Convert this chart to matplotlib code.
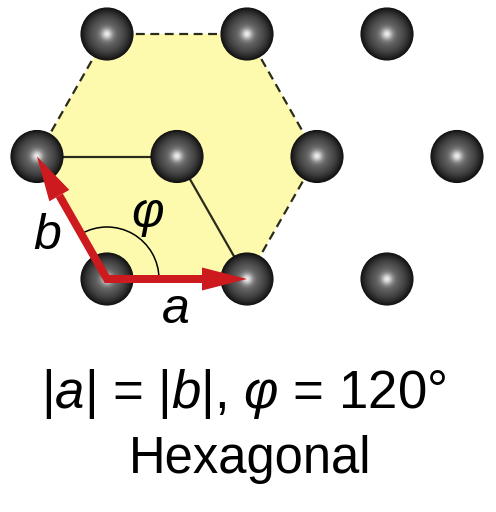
import numpy as np
import matplotlib
matplotlib.use("Agg")
from matplotlib import pyplot as plt
from matplotlib.patches import Polygon, Circle, Arc
from matplotlib.lines import Line2D

plt.rcParams['font.family'] = ['Liberation Sans', 'DejaVu Sans']
plt.rcParams['mathtext.fontset'] = 'custom'
plt.rcParams['mathtext.rm'] = 'Liberation Sans'
plt.rcParams['mathtext.it'] = 'Liberation Sans:italic'

# lattice description (pixel frame, y grows downward)
origin = np.array([107.0, 279.0])
vec_a = np.array([140.0, 0.0])
vec_b = np.array([-70.0, -122.5])
atom_radius = 26

# atoms as (i, j) lattice indices: pos = origin + i*a + j*b
atoms = [(0, 0), (1, 0), (2, 0),
         (0, 1), (1, 1), (2, 1), (3, 1),
         (1, 2), (2, 2), (3, 2)]
hexagon = [(0, 0), (1, 0), (2, 1), (2, 2), (1, 2), (0, 1)]
dashed_edges = [((0, 1), (1, 2)), ((1, 2), (2, 2)),
                ((2, 2), (2, 1)), ((2, 1), (1, 0))]
solid_edges = [((0, 1), (1, 1)), ((1, 1), (1, 0))]
angle_deg = 120

title_line = "|$a$| = |$b$|, $φ$ = 120°"
name_line = "Hexagonal"

RED = '#cc1a1f'
YELLOW = '#fdfaad'
LINE = '#2b2b1a'


def pos(ij):
    return origin + ij[0] * vec_a + ij[1] * vec_b


fig = plt.figure(figsize=(4.96, 5.12), dpi=100)
ax = fig.add_axes([0, 0, 1, 1])
ax.set_xlim(0, 496)
ax.set_ylim(512, 0)
ax.axis('off')

# yellow cell
ax.add_patch(Polygon([pos(p) for p in hexagon], closed=True,
                     fc=YELLOW, ec='none', zorder=1))
for p, q in dashed_edges:
    p, q = pos(p), pos(q)
    ax.add_line(Line2D([p[0], q[0]], [p[1], q[1]], color=LINE, lw=1.6,
                       dashes=(4, 2.5), zorder=2))
for p, q in solid_edges:
    p, q = pos(p), pos(q)
    ax.add_line(Line2D([p[0], q[0]], [p[1], q[1]], color=LINE, lw=1.6,
                       zorder=2))

# shaded spheres
n = 101
g = np.linspace(-1, 1, n)
gx, gy = np.meshgrid(g, g)
d = np.clip(np.hypot(gx, gy), 0, 1)
shade = 0.08 + 0.35 * (1 - d ** 2) + 0.5 * np.exp(-(d / 0.22) ** 2)
shade = np.clip(shade, 0, 1)
for ij in atoms:
    cx, cy = pos(ij)
    r = atom_radius
    im = ax.imshow(shade, cmap='gray', vmin=0, vmax=1,
                   extent=[cx - r, cx + r, cy + r, cy - r],
                   interpolation='bilinear', zorder=3)
    clip = Circle((cx, cy), r, transform=ax.transData)
    im.set_clip_path(clip)
    ax.add_patch(Circle((cx, cy), r, fc='none', ec='#111111', lw=0.8,
                        zorder=3.1))

# angle arc
ax.add_patch(Arc(origin, 104, 104, theta1=360 - angle_deg, theta2=360,
                 color='black', lw=1.1, zorder=4))

# lattice vectors
shaft_w = 8
head_w = 23
head_l = 45
tip_a = pos((1, 0))
tip_b = pos((0, 1))


def head(tip, direction):
    u = direction / np.linalg.norm(direction)
    nrm = np.array([-u[1], u[0]])
    base = tip - u * head_l
    return base, [tip, base + nrm * head_w / 2, base - nrm * head_w / 2]


base_a, head_a = head(tip_a, tip_a - origin)
base_b, head_b = head(tip_b, tip_b - origin)
ax.add_line(Line2D([base_b[0], origin[0], base_a[0] + 2],
                   [base_b[1], origin[1], base_a[1]],
                   color=RED, lw=shaft_w * 72 / 100,
                   solid_joinstyle='miter', solid_capstyle='butt', zorder=5))
ax.add_patch(Polygon(head_a, closed=True, fc=RED, ec='none', zorder=5))
ax.add_patch(Polygon(head_b, closed=True, fc=RED, ec='none', zorder=5))

# labels
ax.text(47, 236, 'b', style='italic', fontsize=36, ha='center', va='center',
        zorder=6)
ax.text(148, 214, 'φ', style='italic', fontsize=36, ha='center', va='center',
        zorder=6)
ax.text(176, 310, 'a', style='italic', fontsize=36, ha='center', va='center',
        zorder=6)

ax.text(244, 408, title_line, fontsize=38, ha='center', va='baseline')
ax.text(250, 473, name_line, fontsize=36.5, ha='center', va='baseline')

fig.savefig('out.png', dpi=100)
